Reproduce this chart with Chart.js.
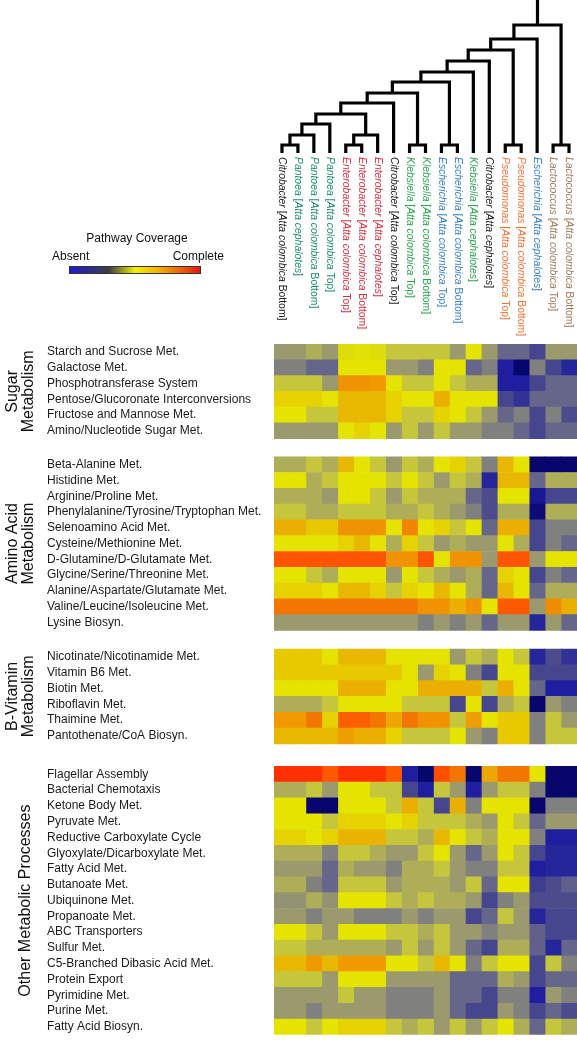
<!DOCTYPE html>
<html>
<head>
<meta charset="utf-8">
<script src="https://cdn.jsdelivr.net/npm/chart.js@4.4.1/dist/chart.umd.min.js"></script>
<style>
  html, body { margin: 0; padding: 0; background: #fff; }
  #wrap { position: relative; width: 577px; height: 1042px; }
  #wrap canvas { position: absolute; left: 0; top: 0; }
</style>
</head>
<body>
<div id="wrap">
  <canvas id="heat" width="577" height="1042"></canvas>
  <canvas id="tree" width="577" height="160"></canvas>
</div>
<script>
// columns (isolates), left to right
var genera = ['Citrobacter', 'Pantoea', 'Pantoea', 'Pantoea', 'Enterobacter', 'Enterobacter', 'Enterobacter',
  'Citrobacter', 'Klebsiella', 'Klebsiella', 'Escherichia', 'Escherichia', 'Klebsiella', 'Citrobacter',
  'Pseudomonas', 'Pseudomonas', 'Escherichia', 'Lactococcus', 'Lactococcus'];
var hosts = ['Atta colombica Bottom', 'Atta cephalotes', 'Atta colombica Bottom', 'Atta colombica Top',
  'Atta colombica Top', 'Atta colombica Bottom', 'Atta cephalotes', 'Atta colombica Top',
  'Atta colombica Top', 'Atta colombica Bottom', 'Atta colombica Top', 'Atta colombica Bottom',
  'Atta cephalotes', 'Atta cephalotes', 'Atta colombica Top', 'Atta colombica Bottom',
  'Atta cephalotes', 'Atta colombica Top', 'Atta colombica Bottom'];
var genusColors = {
  Citrobacter: '#1a1a1a', Pantoea: '#1f8a74', Enterobacter: '#cc3347', Klebsiella: '#2ca24e',
  Escherichia: '#3a80c6', Pseudomonas: '#f07436', Lactococcus: '#a07a5c'
};

// dendrogram: [left, right, height]; leaves are 0..18, merged clusters numbered from 19
var treeMerges = [
  [0, 1, 8], [19, 2, 18], [20, 3, 29], [4, 5, 8], [22, 6, 18], [21, 23, 39],
  [24, 7, 50], [8, 9, 8], [10, 11, 8], [25, 26, 60], [28, 27, 71], [29, 12, 81],
  [30, 13, 92], [14, 15, 8], [31, 32, 103], [33, 16, 114], [17, 18, 8], [34, 35, 128]
];
var treeTop = 153;

// rows and pathway coverage (0 = absent, 1 = complete)
var sugarRows = ['Starch and Sucrose Met.', 'Galactose Met.', 'Phosphotransferase System',
  'Pentose/Glucoronate Interconversions', 'Fructose and Mannose Met.', 'Amino/Nucleotide Sugar Met.'];
var sugarValues = [
  [.44,.44,.5,.44,.63,.64,.63,.56,.56,.56,.56,.44,.65,.44,.3,.3,.2,.44,.44],
  [.37,.37,.3,.3,.65,.65,.65,.44,.44,.37,.65,.65,.3,.37,.1,.02,.37,.2,.12],
  [.56,.56,.56,.44,.84,.84,.83,.65,.56,.56,.65,.56,.5,.5,.1,.1,.2,.3,.3],
  [.7,.7,.7,.65,.76,.76,.76,.7,.65,.65,.78,.65,.65,.65,.2,.15,.3,.3,.3],
  [.65,.65,.56,.56,.76,.76,.76,.7,.56,.56,.7,.65,.56,.44,.3,.37,.2,.37,.22],
  [.44,.44,.44,.44,.65,.7,.65,.44,.56,.44,.56,.44,.44,.37,.37,.3,.2,.3,.3]
];
var aminoRows = ['Beta-Alanine Met.', 'Histidine Met.', 'Arginine/Proline Met.',
  'Phenylalanine/Tyrosine/Tryptophan Met.', 'Selenoamino Acid Met.', 'Cysteine/Methionine Met.',
  'D-Glutamine/D-Glutamate Met.', 'Glycine/Serine/Threonine Met.', 'Alanine/Aspartate/Glutamate Met.',
  'Valine/Leucine/Isoleucine Met.', 'Lysine Biosyn.'];
var aminoValues = [
  [.5,.5,.56,.5,.76,.65,.56,.44,.56,.5,.65,.7,.56,.37,.76,.65,.02,.02,.02],
  [.65,.65,.5,.56,.65,.65,.65,.56,.65,.56,.44,.56,.5,.12,.76,.76,.3,.5,.5],
  [.5,.5,.5,.44,.65,.65,.56,.44,.56,.5,.5,.5,.3,.22,.65,.65,.08,.2,.2],
  [.56,.56,.5,.5,.56,.56,.56,.5,.5,.56,.5,.44,.37,.22,.5,.5,.04,.5,.5],
  [.78,.78,.72,.72,.84,.84,.84,.65,.86,.65,.7,.56,.65,.3,.78,.78,.2,.37,.37],
  [.65,.65,.65,.65,.7,.76,.65,.5,.7,.56,.44,.5,.44,.44,.65,.5,.2,.37,.3],
  [.94,.94,.94,.94,.94,.94,.94,.84,.84,.94,.65,.84,.84,.44,.94,.94,.44,.65,.65],
  [.65,.65,.56,.5,.65,.65,.65,.44,.65,.56,.5,.44,.5,.3,.7,.65,.2,.37,.3],
  [.7,.7,.7,.65,.76,.76,.7,.56,.7,.65,.76,.65,.5,.3,.76,.65,.3,.5,.5],
  [.88,.88,.88,.88,.88,.88,.88,.88,.88,.84,.84,.78,.84,.65,.93,.93,.44,.85,.78],
  [.44,.44,.44,.44,.44,.44,.44,.44,.44,.37,.44,.37,.44,.3,.44,.44,.12,.44,.3]
];
var vitaminRows = ['Nicotinate/Nicotinamide Met.', 'Vitamin B6 Met.', 'Biotin Met.', 'Riboflavin Met.',
  'Thaimine Met.', 'Pantothenate/CoA Biosyn.'];
var vitaminValues = [
  [.72,.72,.72,.65,.76,.76,.76,.65,.65,.65,.65,.44,.56,.5,.65,.56,.12,.22,.15],
  [.72,.72,.72,.72,.72,.72,.72,.72,.65,.44,.7,.65,.37,.2,.65,.65,.2,.2,.2],
  [.65,.65,.65,.65,.78,.78,.78,.65,.65,.78,.78,.78,.78,.56,.78,.65,.3,.1,.1],
  [.5,.5,.5,.56,.65,.65,.65,.65,.56,.56,.56,.2,.65,.2,.5,.56,.02,.44,.37],
  [.83,.83,.88,.7,.92,.92,.88,.8,.88,.84,.84,.56,.82,.65,.72,.72,.37,.56,.44],
  [.76,.76,.76,.76,.82,.78,.78,.7,.56,.56,.56,.65,.44,.37,.72,.72,.37,.56,.56]
];
var otherRows = ['Flagellar Assembly', 'Bacterial Chemotaxis', 'Ketone Body Met.', 'Pyruvate Met.',
  'Reductive Carboxylate Cycle', 'Glyoxylate/Dicarboxylate Met.', 'Fatty Acid Met.', 'Butanoate Met.',
  'Ubiquinone Met.', 'Propanoate Met.', 'ABC Transporters', 'Sulfur Met.', 'C5-Branched Dibasic Acid Met.',
  'Protein Export', 'Pyrimidine Met.', 'Purine Met.', 'Fatty Acid Biosyn.'];
var otherValues = [
  [1,1,1,.93,1,1,1,.93,.1,.02,.95,.88,.02,.8,.88,.88,.65,.02,.02],
  [.5,.5,.56,.44,.65,.65,.56,.56,.2,.1,.56,.44,.1,.44,.56,.56,.37,.02,.02],
  [.65,.65,.02,.02,.65,.65,.65,.56,.78,.56,.2,.78,.37,.65,.65,.65,.02,.37,.37],
  [.65,.65,.65,.56,.7,.7,.7,.65,.7,.56,.56,.56,.5,.44,.65,.56,.3,.44,.44],
  [.7,.7,.65,.7,.77,.77,.77,.56,.56,.5,.76,.65,.56,.5,.65,.65,.37,.1,.1],
  [.5,.5,.5,.37,.56,.56,.5,.44,.44,.56,.65,.44,.3,.44,.65,.56,.2,.12,.12],
  [.44,.44,.44,.3,.5,.44,.44,.37,.5,.5,.56,.44,.37,.37,.56,.56,.1,.12,.12],
  [.5,.5,.37,.3,.56,.56,.56,.44,.5,.5,.5,.44,.56,.3,.65,.65,.18,.22,.28],
  [.42,.42,.5,.42,.65,.65,.65,.56,.5,.56,.5,.5,.44,.2,.37,.44,.22,.22,.22],
  [.44,.44,.37,.44,.44,.37,.37,.37,.44,.37,.44,.44,.2,.3,.56,.44,.12,.2,.2],
  [.65,.65,.56,.44,.65,.65,.65,.56,.56,.5,.56,.44,.44,.37,.44,.44,.28,.2,.2],
  [.56,.56,.5,.5,.5,.5,.5,.44,.56,.44,.56,.44,.3,.2,.5,.5,.28,.12,.3],
  [.76,.76,.83,.76,.83,.83,.83,.65,.65,.56,.76,.65,.37,.56,.65,.65,.2,.56,.37],
  [.56,.56,.56,.44,.65,.65,.65,.44,.44,.44,.44,.3,.3,.3,.5,.44,.2,.3,.3],
  [.44,.44,.44,.44,.56,.44,.44,.37,.37,.37,.44,.3,.3,.2,.37,.37,.1,.44,.37],
  [.44,.44,.37,.44,.44,.44,.44,.37,.37,.37,.44,.3,.2,.2,.44,.37,.2,.3,.22],
  [.65,.65,.56,.65,.7,.7,.7,.56,.5,.56,.44,.56,.44,.56,.65,.5,.3,.56,.5]
];

var groups = [
  { title: ['Sugar', 'Metabolism'], rows: sugarRows, values: sugarValues },
  { title: ['Amino Acid', 'Metabolism'], rows: aminoRows, values: aminoValues },
  { title: ['B-Vitamin', 'Metabolism'], rows: vitaminRows, values: vitaminValues },
  { title: ['Other Metabolic Processes'], rows: otherRows, values: otherValues }
];
// blank space before each group after the first, in row heights
var groupGaps = [0, 1.14, 1.18, 1.43];

// colour scale: navy -> blue -> grey -> yellow -> orange -> red
var colorStops = [
  [0.00, [0, 0, 96]], [0.10, [30, 30, 158]], [0.20, [70, 70, 142]], [0.30, [102, 102, 138]],
  [0.37, [128, 128, 126]], [0.44, [154, 154, 108]], [0.50, [174, 174, 88]], [0.56, [198, 198, 60]],
  [0.65, [228, 228, 0]], [0.70, [230, 210, 0]], [0.76, [232, 184, 0]], [0.83, [240, 154, 0]],
  [0.88, [242, 118, 0]], [0.94, [255, 84, 0]], [1.00, [255, 48, 0]]
];
function coverageColor(v) {
  for (var i = 1; i < colorStops.length; i++) {
    if (v <= colorStops[i][0]) {
      var a = colorStops[i - 1], b = colorStops[i];
      var t = (v - a[0]) / (b[0] - a[0]);
      var c = a[1].map(function(ch, k) { return Math.round(ch + (b[1][k] - ch) * t); });
      return 'rgb(' + c.join(',') + ')';
    }
  }
  return 'rgb(255,48,0)';
}

var FONT = '"Liberation Sans", Arial, Helvetica, sans-serif';

// flatten the groups onto one linear row axis
var rowLabels = [], rowPos = [], matrix = [], groupSpans = [];
var nextPos = 0;
groups.forEach(function(g, gi) {
  nextPos += groupGaps[gi];
  var first = rowLabels.length;
  g.rows.forEach(function(r, i) {
    rowLabels.push(r);
    rowPos.push(nextPos);
    matrix.push(g.values[i]);
    nextPos += 1;
  });
  groupSpans.push({ title: g.title, first: first, last: rowLabels.length - 1 });
});

var heatDatasets = genera.map(function(gen, j) {
  return {
    label: gen + ' [' + hosts[j] + ']',
    data: rowPos.map(function(p) { return { x: 1, y: p }; }),
    backgroundColor: function(ctx) { return coverageColor(matrix[ctx.dataIndex][j]); },
    borderWidth: 0,
    barPercentage: 1,
    categoryPercentage: 1
  };
});

var decorations = {
  id: 'decorations',
  afterDraw: function(chart) {
    var ctx = chart.ctx, xs = chart.scales.x, ys = chart.scales.y;
    ctx.save();
    // column labels, rotated to read downwards
    genera.forEach(function(gen, j) {
      var host = hosts[j];
      var species = host.replace(/ (Top|Bottom)$/, '');
      var suffix = host.substring(species.length) + ']';
      var parts = [[gen, true], [' [', false], [species, true], [suffix, false]];
      ctx.save();
      ctx.translate(xs.getPixelForValue(j + 0.5), 157);
      ctx.rotate(Math.PI / 2);
      ctx.fillStyle = genusColors[gen];
      ctx.textBaseline = 'middle';
      ctx.textAlign = 'left';
      var cx = 0;
      parts.forEach(function(p) {
        ctx.font = (p[1] ? 'italic ' : '') + '10.4px ' + FONT;
        ctx.fillText(p[0], cx, 0);
        cx += ctx.measureText(p[0]).width;
      });
      ctx.restore();
    });

    // colour legend
    ctx.fillStyle = '#111';
    ctx.font = '12px ' + FONT;
    ctx.textBaseline = 'middle';
    ctx.textAlign = 'center';
    ctx.fillText('Pathway Coverage', 137, 239);
    ctx.textAlign = 'left';
    ctx.fillText('Absent', 52, 257);
    ctx.textAlign = 'right';
    ctx.fillText('Complete', 224, 257);
    var grad = ctx.createLinearGradient(69, 0, 201, 0);
    grad.addColorStop(0, '#1c1cd8');
    grad.addColorStop(0.3, '#3c3c44');
    grad.addColorStop(0.5, '#f2f200');
    grad.addColorStop(0.72, '#f4a000');
    grad.addColorStop(1, '#e81212');
    ctx.fillStyle = grad;
    ctx.fillRect(69, 266, 132, 8);
    ctx.strokeStyle = '#333';
    ctx.lineWidth = 1;
    ctx.strokeRect(69.5, 266.5, 131, 7);

    // group titles
    ctx.fillStyle = '#111';
    ctx.font = '16px ' + FONT;
    ctx.textAlign = 'center';
    ctx.textBaseline = 'middle';
    groupSpans.forEach(function(s) {
      var yc = (ys.getPixelForValue(rowPos[s.first]) + ys.getPixelForValue(rowPos[s.last])) / 2;
      var xsPos = s.title.length === 2 ? [12.5, 28.5] : [26];
      s.title.forEach(function(t, k) {
        ctx.save();
        ctx.translate(xsPos[k], yc);
        ctx.rotate(-Math.PI / 2);
        ctx.fillText(t, 0, 0);
        ctx.restore();
      });
    });
    ctx.restore();
  }
};

new Chart(document.getElementById('heat'), {
  type: 'bar',
  data: { datasets: heatDatasets },
  options: {
    indexAxis: 'y',
    responsive: false,
    animation: false,
    layout: { padding: { left: 47, top: 344, right: 0, bottom: 5 } },
    plugins: { legend: { display: false }, tooltip: { enabled: false } },
    scales: {
      x: { type: 'linear', stacked: true, min: 0, max: 19, display: false },
      y: {
        type: 'linear',
        stacked: true,
        reverse: true,
        offset: false,
        min: rowPos[0] - 0.5,
        max: rowPos[rowPos.length - 1] + 0.5,
        grid: { display: false, offset: false },
        border: { display: false },
        afterBuildTicks: function(scale) {
          scale.ticks = rowPos.map(function(p) { return { value: p }; });
        },
        ticks: {
          autoSkip: false,
          crossAlign: 'far',
          padding: 0,
          color: '#1a1a1a',
          font: { family: FONT, size: 12 },
          callback: function(value, index) { return rowLabels[index]; }
        },
        afterFit: function(scale) { scale.width = 227; }
      }
    }
  },
  plugins: [decorations]
});

// dendrogram links, built from the merge table
var nodeX = [], nodeH = [], links = [];
genera.forEach(function(g, i) { nodeX[i] = i + 0.5; nodeH[i] = 0; });
treeMerges.forEach(function(m, k) {
  var a = m[0], b = m[1], h = m[2];
  links.push([{ x: nodeX[a], y: nodeH[a] }, { x: nodeX[a], y: h }, { x: nodeX[b], y: h }, { x: nodeX[b], y: nodeH[b] }]);
  nodeX[genera.length + k] = (nodeX[a] + nodeX[b]) / 2;
  nodeH[genera.length + k] = h;
});
var root = genera.length + treeMerges.length - 1;
links.push([{ x: nodeX[root], y: nodeH[root] }, { x: nodeX[root], y: treeTop }]);

new Chart(document.getElementById('tree'), {
  type: 'scatter',
  data: {
    datasets: links.map(function(pts) {
      return {
        data: pts, showLine: true, pointRadius: 0, borderColor: '#000', borderWidth: 3.2,
        borderJoinStyle: 'miter', borderCapStyle: 'butt', tension: 0, clip: false
      };
    })
  },
  options: {
    responsive: false,
    animation: false,
    layout: { padding: { left: 274, right: 0, top: 0, bottom: 7 } },
    plugins: { legend: { display: false }, tooltip: { enabled: false } },
    scales: {
      x: { type: 'linear', min: 0, max: 19, display: false },
      y: { type: 'linear', min: 0, max: treeTop, display: false }
    }
  }
});
</script>
</body>
</html>
